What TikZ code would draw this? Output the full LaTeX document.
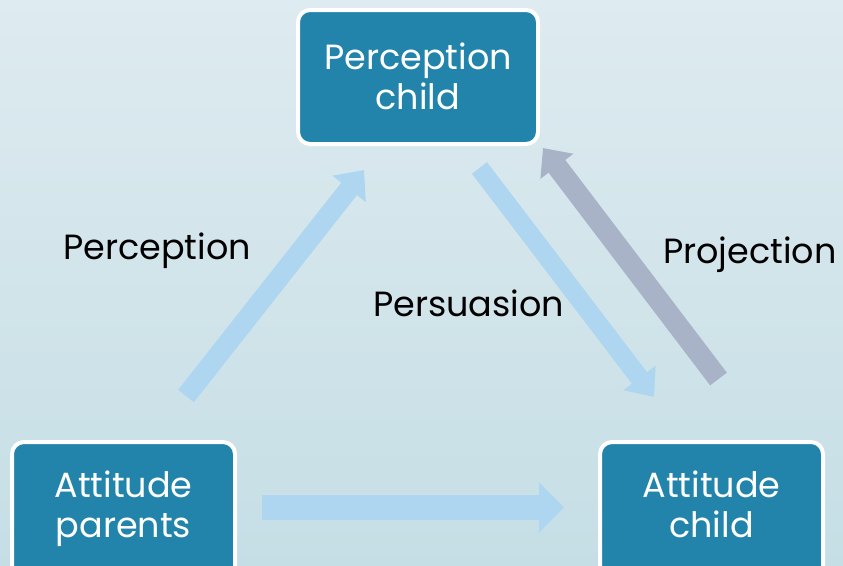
\documentclass[tikz,border=0pt]{standalone}
\usepackage{fontspec}
\setmainfont{Poppins}
\usetikzlibrary{arrows.meta}
\definecolor{boxfill}{RGB}{34,132,171}
\definecolor{arrblue}{RGB}{174,214,240}
\definecolor{arrgray}{RGB}{169,179,200}
\definecolor{bgtop}{RGB}{222,235,240}
\definecolor{bgbot}{RGB}{197,222,229}
\tikzset{
  box/.style={draw=white, line width=4pt, fill=boxfill, rounded corners=12pt, inner sep=0pt},
  boxtext/.style={text=white, align=center, font=\fontsize{35}{40}\selectfont, inner sep=0pt, anchor=base},
  lbl/.style={text=black, font=\fontsize{35}{38}\selectfont, inner sep=0pt, anchor=base west},
}
\begin{document}
\begin{tikzpicture}[x=1pt,y=-1pt]
\useasboundingbox (0,0) rectangle (843,565);
\clip (0,0) rectangle (843,565);
\shade[top color=bgtop, bottom color=bgbot] (0,0) rectangle (843,565);

% boxes
\node[box, minimum width=240pt, minimum height=134pt] (pcbox) at (418,77) {};
\node[boxtext] (pc) at (418,109) {Perception\\child};
\node[box, minimum width=223pt, minimum height=140pt] (apbox) at (123.5,512) {};
\node[boxtext] (ap) at (123.5,537) {Attitude\\parents};
\node[box, minimum width=223pt, minimum height=140pt] (acbox) at (711.5,512) {};
\node[boxtext] (ac) at (711.5,537) {Attitude\\child};

% arrow coordinates
\coordinate (perT) at (186,396);
\coordinate (perH) at (364,170);
\coordinate (psuT) at (479.5,168);
\coordinate (psuH) at (654,397);
\coordinate (proT) at (718.5,379);
\coordinate (proH) at (543,148);
\coordinate (botT) at (262,507.5);
\coordinate (botH) at (564,507.5);

\draw[arrblue, line width=20pt, line cap=butt, -{Triangle[length=24pt,width=41pt]}] (perT) -- (perH);
\draw[arrblue, line width=19pt, line cap=butt, -{Triangle[length=24pt,width=39pt]}] (psuT) -- (psuH);
\draw[arrgray, line width=21pt, line cap=butt, -{Triangle[length=23pt,width=40pt]}] (proT) -- (proH);
\draw[arrblue, line width=25pt, line cap=butt, -{Triangle[length=25pt,width=49pt]}] (botT) -- (botH);

% labels
\node[lbl] (lper) at (63,259) {Perception};
\node[lbl] (lpsu) at (373,316) {Persuasion};
\node[lbl] (lpro) at (663,263) {Projection};
\end{tikzpicture}
\end{document}
